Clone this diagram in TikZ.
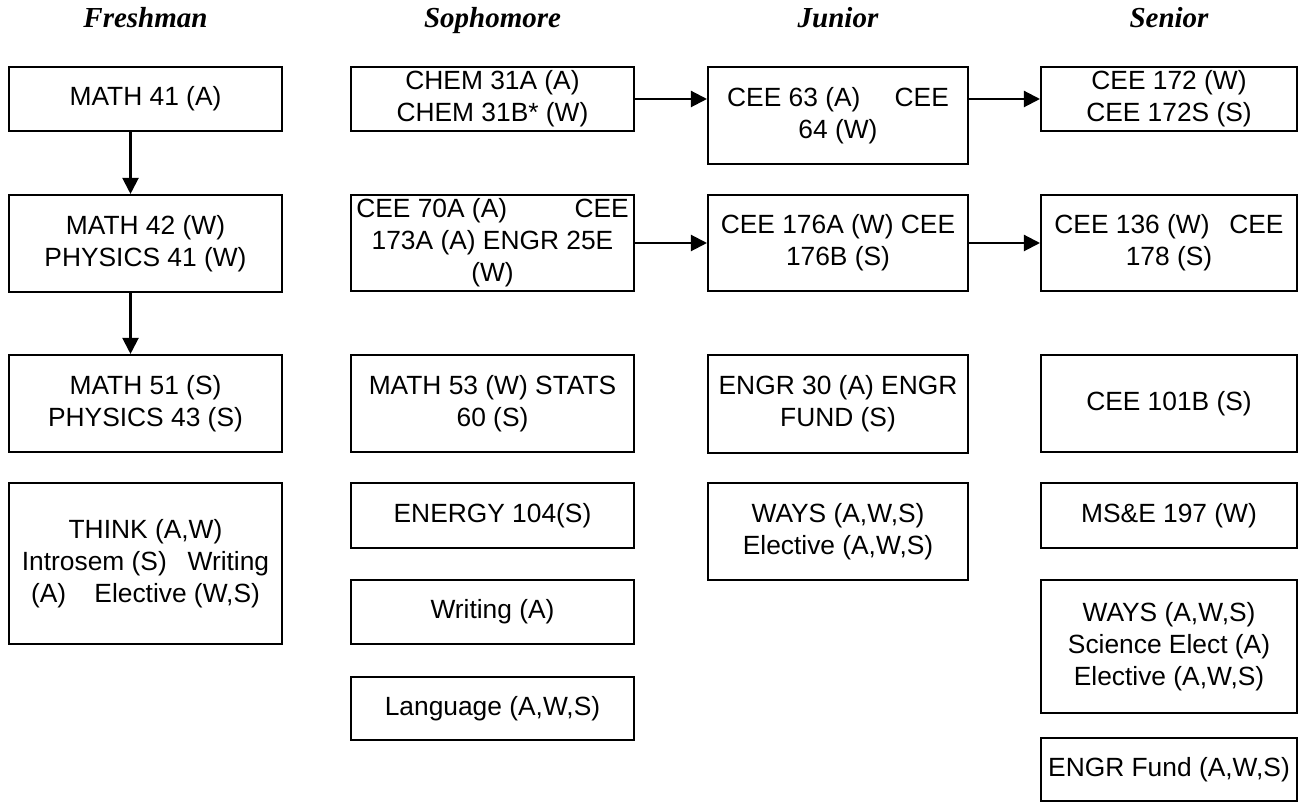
\documentclass[tikz,border=0pt]{standalone}
\usepackage{fontspec}
\setmainfont{Liberation Sans}
\newfontfamily\titlefont{Liberation Serif}
\usepackage{tikz}
\usetikzlibrary{arrows.meta,positioning}
\tikzset{
  coursebox/.style={
    rectangle, draw=black, line width=1.2pt,
    minimum width=#1, align=center, inner sep=0pt,
    font=\fontsize{15}{18.2}\selectfont
  },
  coursebox/.default=5.46cm,
  yeartitle/.style={
    anchor=base, inner sep=0pt,
    font=\titlefont\bfseries\itshape\fontsize{16.5}{19}\selectfont
  },
  prereq/.style={
    -{Triangle[length=0.32cm,width=0.32cm]}, line width=1.2pt
  },
}

\begin{document}
\begin{tikzpicture}[x=0.02cm, y=-0.02cm]
  \useasboundingbox (0,0) rectangle (1301,803);
  \node[yeartitle] (tfr) at (145.5,28) {Freshman};
  \node[yeartitle] (tso) at (492.5,28) {Sophomore};
  \node[yeartitle] (tju) at (838,28) {Junior};
  \node[yeartitle] (tse) at (1169,28) {Senior};

  \node[coursebox, minimum height=1.28cm] (m41) at (145.5,99) {MATH 41 (A)};
  \node[coursebox, minimum height=1.94cm] (m42) at (145.5,243.5) {MATH 42 (W)\\PHYSICS 41 (W)};
  \node[coursebox, minimum height=1.94cm] (m51) at (145.5,403.5) {MATH 51 (S)\\PHYSICS 43 (S)};
  \node[coursebox, minimum height=3.22cm] (think) at (145.5,563.5)
    {THINK (A,W)\\Introsem (S)\hspace{0.79em}Writing\\(A)\hspace{1.07em}Elective (W,S)};

  \node[coursebox=5.66cm, minimum height=1.28cm] (chem) at (492.5,99) {CHEM 31A (A)\\CHEM 31B* (W)};
  \node[coursebox=5.66cm, minimum height=1.92cm] (cee70) at (492.5,243)
    {\makebox[5.45cm]{CEE 70A (A)\hfill CEE}\\173A (A) ENGR 25E\\(W)};
  \node[coursebox=5.66cm, minimum height=1.94cm] (m53) at (492.5,403.5) {MATH 53 (W) STATS\\60 (S)};
  \node[coursebox=5.66cm, minimum height=1.3cm] (energy) at (492.5,515.5) {ENERGY 104(S)};
  \node[coursebox=5.66cm, minimum height=1.28cm] (writing) at (492.5,612) {Writing (A)};
  \node[coursebox=5.66cm, minimum height=1.26cm] (lang) at (492.5,708.5) {Language (A,W,S)};

  \node[coursebox=5.2cm, minimum height=1.94cm] (cee63) at (838,115.5) {CEE 63 (A)\hspace{1.3em}CEE\\64 (W)};
  \node[coursebox=5.2cm, minimum height=1.92cm] (cee176) at (838,243) {CEE 176A (W) CEE\\176B (S)};
  \node[coursebox=5.2cm, minimum height=1.96cm] (engr30) at (838,404) {ENGR 30 (A) ENGR\\FUND (S)};
  \node[coursebox=5.2cm, minimum height=1.94cm] (ways) at (838,531.5) {WAYS (A,W,S)\\Elective (A,W,S)};

  \node[coursebox=5.12cm, minimum height=1.28cm] (cee172) at (1169,99) {CEE 172 (W)\\CEE 172S (S)};
  \node[coursebox=5.12cm, minimum height=1.92cm] (cee136) at (1169,243) {CEE 136 (W)\hspace{0.75em}CEE\\178 (S)};
  \node[coursebox=5.12cm, minimum height=1.94cm] (cee101) at (1169,403.5) {CEE 101B (S)};
  \node[coursebox=5.12cm, minimum height=1.3cm] (mse) at (1169,515.5) {MS\&E 197 (W)};
  \node[coursebox=5.12cm, minimum height=2.66cm] (waysel) at (1169,646.5)
    {WAYS (A,W,S)\\Science Elect (A)\\Elective (A,W,S)};
  \node[coursebox=5.12cm, minimum height=1.26cm] (engrfund) at (1169,769.5) {ENGR Fund (A,W,S)};

  \draw[prereq] ([xshift=-0.3cm]m41.south) -- ([xshift=-0.3cm]m42.north);
  \draw[prereq] ([xshift=-0.3cm]m42.south) -- ([xshift=-0.3cm]m51.north);
  \draw[prereq] (chem) -- (chem -| cee63.west);
  \draw[prereq] (cee63.east |- cee172) -- (cee172);
  \draw[prereq] (cee70) -- (cee176);
  \draw[prereq] (cee176) -- (cee136);
\end{tikzpicture}
\end{document}
